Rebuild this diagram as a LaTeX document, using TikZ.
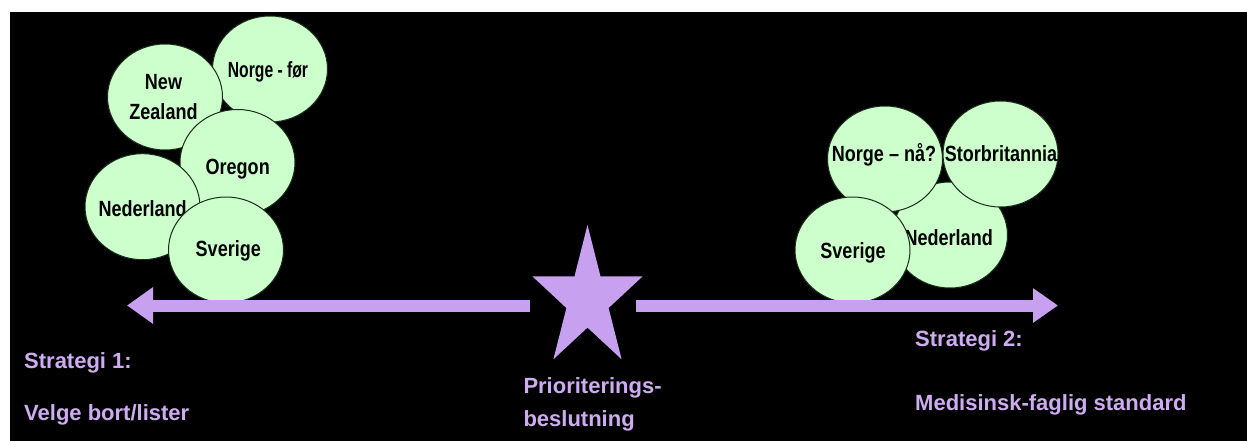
\documentclass[tikz,border=0pt]{standalone}
\usepackage{fontspec}
\setmainfont{Liberation Sans}
\newfontfamily\narrowsans{Liberation Sans}[FakeStretch=0.82]
\usetikzlibrary{arrows.meta,shapes.geometric}

\definecolor{lav}{RGB}{200,160,240}
\definecolor{lavtext}{RGB}{206,172,242}
\definecolor{mint}{RGB}{204,255,204}
\definecolor{rim}{RGB}{25,45,25}

\tikzset{
  blob/.style={ellipse, draw=rim, line width=1pt, fill=mint,
               minimum width=115pt, minimum height=106pt, inner sep=0pt},
  ctext/.style={font=\narrowsans\bfseries\fontsize{22}{30}\selectfont,
                text=black, inner sep=0pt, align=center},
  ptext/.style={font=\bfseries\fontsize{22}{26}\selectfont,
                text=lavtext, inner sep=0pt, anchor=base west},
  bigarrow/.style={draw=lav, line width=12pt, line cap=butt}
}

\begin{document}
\begin{tikzpicture}[x=1pt, y=-1pt]
  \useasboundingbox (0,0) rectangle (1247,441);
  \fill[white] (0,0) rectangle (1247,441);
  \fill[black] (10,12) rectangle (1247,441);

  % left cluster
  \node[blob] (nf) at (270,69) {};
  \node[ctext, anchor=base] (tnf) at (268,77.3) {\scalebox{0.87}[1]{Norge - før}};
  \node[blob] (nz) at (165,97) {};
  \node[ctext, anchor=center] (tnz) at (163.5,97.5) {New\\Zealand};
  \node[blob] (or) at (237.5,162.5) {};
  \node[ctext, anchor=base] (tor) at (237.7,175) {Oregon};
  \node[blob] (nl) at (142.5,206.7) {};
  \node[ctext, anchor=base west] (tnl) at (98.3,216.7) {Nederland};
  \node[blob] (sv) at (226,250) {};
  \node[ctext, anchor=base] (tsv) at (228.3,256.7) {Sverige};

  % right cluster
  \node[blob] (nl2) at (950,235) {};
  \node[ctext, anchor=base east] (tnl2) at (993,245) {Nederland};
  \node[blob] (nn) at (885,159) {};
  \node[ctext, anchor=base] (tnn) at (884,161.7) {Norge – nå?};
  \node[blob] (sb) at (1000.5,154) {};
  \node[ctext, anchor=base] (tsb) at (1001,161.7) {Storbritannia};
  \node[blob] (sv2) at (852.5,250) {};
  \node[ctext, anchor=base] (tsv2) at (853,258.3) {Sverige};

  % axis arrows
  \coordinate (lstart) at (530,305.5);
  \coordinate (ltip) at (127,305.5);
  \coordinate (rstart) at (636,305.5);
  \coordinate (rtip) at (1058,305.5);
  \draw[bigarrow, -{Triangle[length=26pt,width=35pt]}] (lstart) -- (ltip);
  \draw[bigarrow, -{Triangle[length=25pt,width=33pt]}] (rstart) -- (rtip);

  % decision star
  \fill[lav] (587.5,225.0) -- (600.5,276.3) -- (642.7,276.3) -- (608.6,308.0)
    -- (621.6,359.3) -- (587.5,327.6) -- (553.4,359.3) -- (566.4,308.0)
    -- (532.3,276.3) -- (574.5,276.3) -- cycle;

  % captions
  \node[ptext] (s1) at (24,368) {Strategi 1:};
  \node[ptext] (s1b) at (24,420.7) {Velge bort/lister};
  \node[ptext] (pb) at (523.3,393.3) {Prioriterings-};
  \node[ptext] (pb2) at (523.3,426.5) {beslutning};
  \node[ptext] (s2) at (915,346.7) {Strategi 2:};
  \node[ptext] (s2b) at (915,410.7) {Medisinsk-faglig standard};
\end{tikzpicture}
\end{document}
